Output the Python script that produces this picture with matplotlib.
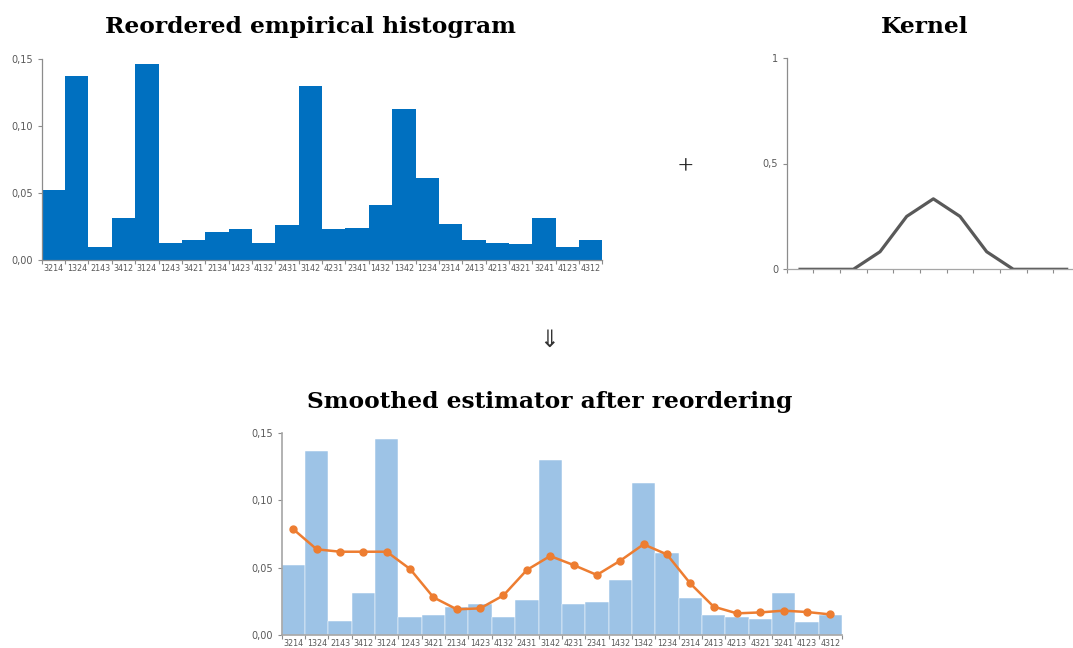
import numpy as np
import matplotlib
matplotlib.use("Agg")
import matplotlib.pyplot as plt
from matplotlib.ticker import FuncFormatter, FixedLocator

# permutations in the reordered sequence
perms = ["3214", "1324", "2143", "3412", "3124", "1243", "3421", "2134",
         "1423", "4132", "2431", "3142", "4231", "2341", "1432", "1342",
         "1234", "2314", "2413", "4213", "4321", "3241", "4123", "4312"]

# empirical frequencies
hist_vals = [0.052, 0.137, 0.010, 0.031, 0.146, 0.013, 0.015, 0.021,
             0.023, 0.013, 0.026, 0.130, 0.023, 0.024, 0.041, 0.113,
             0.061, 0.027, 0.015, 0.013, 0.012, 0.031, 0.0095, 0.015]

# kernel weights
kernel_vals = [0, 0, 0, 0.083, 0.25, 0.333, 0.25, 0.083, 0, 0, 0]

# smoothed estimator
smooth_vals = [0.0785, 0.0636, 0.0618, 0.0618, 0.0618, 0.0489, 0.0278, 0.0189,
               0.0196, 0.0293, 0.0482, 0.0586, 0.0519, 0.0445, 0.0551, 0.0673,
               0.0598, 0.0382, 0.0209, 0.0159, 0.0166, 0.0179, 0.0169, 0.0151]

W, H = 1073, 648
TXT = "#595959"
SPINE = "#8c8c8c"
TITLE_FONT = dict(family="DejaVu Serif", fontweight="bold", fontsize=16.8)


def px_axes(fig, left, top, right, bottom):
    return fig.add_axes([left / W, 1 - bottom / H, (right - left) / W, (bottom - top) / H])


def comma(v, pos):
    return f"{v:.2f}".replace(".", ",")


def style_cat_axes(ax, n, ymax, yticks, fmt, xlabels=None):
    ax.set_xlim(-0.5, n - 0.5)
    ax.set_ylim(0, ymax)
    for s in ["top", "right"]:
        ax.spines[s].set_visible(False)
    for s in ["left", "bottom"]:
        ax.spines[s].set_color(SPINE)
        ax.spines[s].set_linewidth(0.9)
    ax.set_yticks(yticks)
    ax.yaxis.set_major_formatter(FuncFormatter(fmt))
    ax.tick_params(axis="y", length=3, width=0.8, color=SPINE, labelsize=7,
                   labelcolor=TXT, pad=3)
    # tick marks between categories, labels centred under them
    ax.xaxis.set_major_locator(FixedLocator(np.arange(n + 1) - 0.5))
    ax.xaxis.set_major_formatter(FuncFormatter(lambda v, p: ""))
    ax.tick_params(axis="x", which="major", length=3, width=0.8, color=SPINE)
    if xlabels is not None:
        ax.set_xticks(np.arange(n), minor=True)
        ax.set_xticklabels(xlabels, minor=True)
        ax.tick_params(axis="x", which="minor", length=0, labelsize=5.8,
                       labelcolor=TXT, pad=3)


fig = plt.figure(figsize=(W / 100, H / 100), dpi=100)

x = np.arange(len(perms))

# reordered empirical histogram
ax1 = px_axes(fig, 41.7, 59, 602.5, 260)
ax1.bar(x, hist_vals, width=1.0, color="#0070C0", linewidth=0)
style_cat_axes(ax1, len(perms), 0.15, [0, 0.05, 0.10, 0.15], comma, perms)
fig.text(310 / W, 1 - 27 / H, "Reordered empirical histogram", ha="center", va="center",
         **TITLE_FONT)

# kernel
ax2 = px_axes(fig, 786.7, 57.7, 1080, 269.3)
xk = np.arange(len(kernel_vals))
ax2.plot(xk, kernel_vals, color="#595959", linewidth=2.3, solid_joinstyle="round")
style_cat_axes(ax2, len(kernel_vals), 1.0, [0, 0.5, 1],
               lambda v, p: "0" if v == 0 else ("1" if v == 1 else f"{v:g}".replace(".", ",")))
ax2.spines["bottom"].set_color("#a6a6a6")
fig.text(925 / W, 1 - 27 / H, "Kernel", ha="center", va="center", **TITLE_FONT)

# plus sign and arrow
fig.text(685 / W, 1 - 168 / H, "+", ha="center", va="center", fontsize=20,
         family="Liberation Serif", color="#222222")
fig.text(549 / W, 1 - 340 / H, "\u21d3", ha="center", va="center", fontsize=17,
         family="DejaVu Sans", color="#333333")

# smoothed estimator after reordering
ax3 = px_axes(fig, 281.7, 433.3, 842, 634.7)
ax3.bar(x, hist_vals, width=1.0, color="#9DC3E6", edgecolor="white", linewidth=0.35)
ax3.plot(x, smooth_vals, color="#ED7D31", linewidth=1.8, marker="o", markersize=5,
         markeredgecolor="#ED7D31")
style_cat_axes(ax3, len(perms), 0.15, [0, 0.05, 0.10, 0.15], comma, perms)
for s in ["left", "bottom"]:
    ax3.spines[s].set_color("#a6a6a6")
    ax3.spines[s].set_linewidth(1.2)
fig.text(550 / W, 1 - 402 / H, "Smoothed estimator after reordering", ha="center",
         va="center", **TITLE_FONT)

fig.savefig("out.png", dpi=100)
